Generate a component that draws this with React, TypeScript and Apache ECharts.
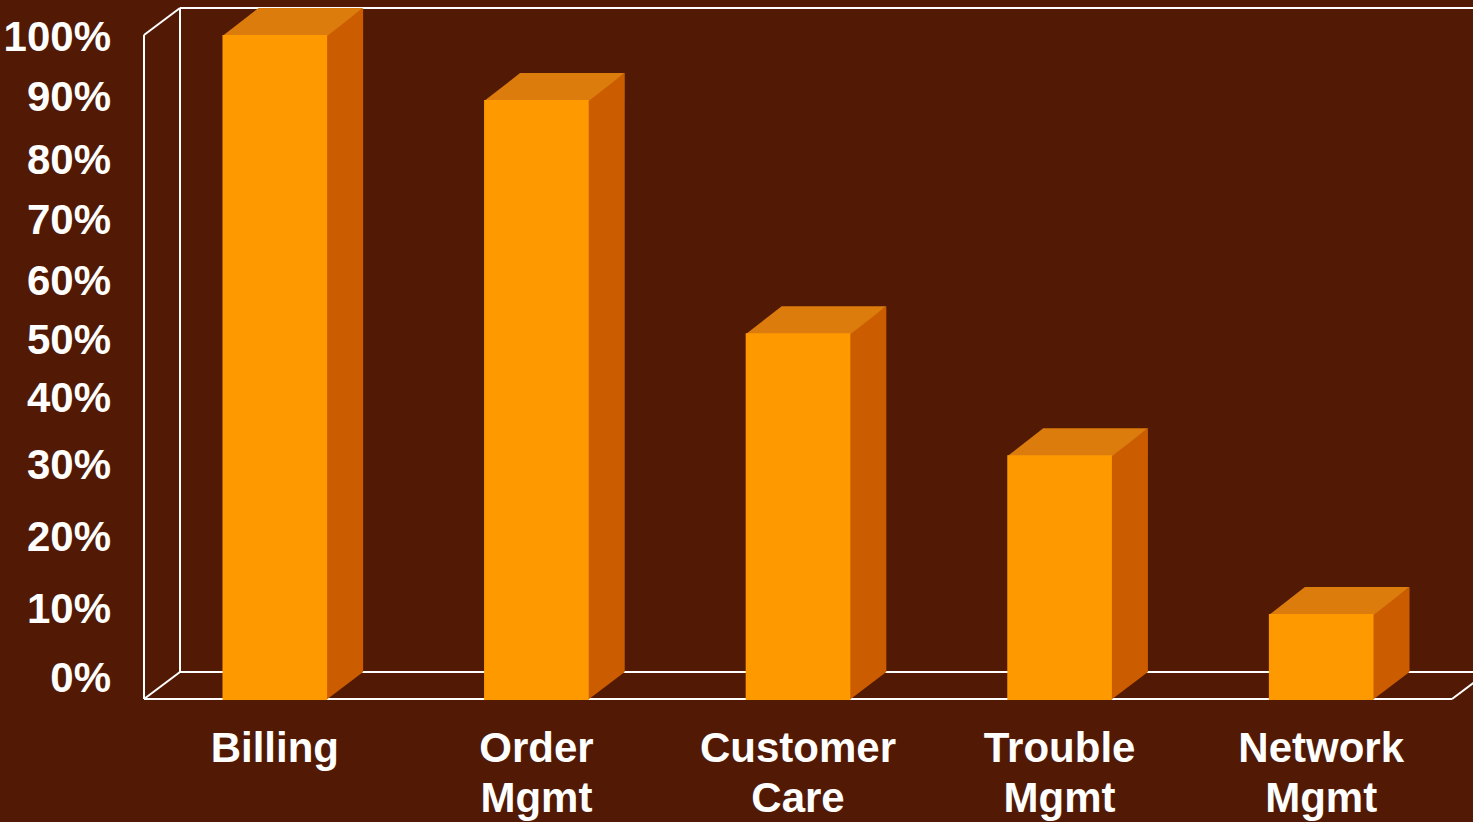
import React, { useEffect, useRef } from "react";
import * as echarts from "echarts";

const categories = ["Billing", "Order\nMgmt", "Customer\nCare", "Trouble\nMgmt", "Network\nMgmt"];
const shares = [100, 90.2, 55.1, 36.7, 12.8];
const tickLabels = ["0%", "10%", "20%", "30%", "40%", "50%", "60%", "70%", "80%", "90%", "100%"];
const tickPositions = [3.3, 13.7, 24.5, 35.3, 45.4, 54.1, 63.0, 72.2, 81.2, 90.7, 99.7];

const FONT = "'Liberation Sans', Arial, sans-serif";
const DX = 36;
const DY = 27;

export default function App() {
  const ref = useRef<HTMLDivElement>(null);
  useEffect(() => {
    if (!ref.current) return;
    const chart = echarts.init(ref.current, null, { renderer: "svg" });
    chart.setOption({
      animation: false,
      backgroundColor: "#521A04",
      grid: { left: 144, right: 21, top: 35, bottom: 122, containLabel: false },
      xAxis: {
        type: "category",
        data: categories,
        axisLine: { show: false },
        axisTick: { show: false },
        splitLine: { show: false },
        axisLabel: {
          color: "#ffffff",
          fontFamily: FONT,
          fontWeight: "bold",
          fontSize: 42,
          lineHeight: 50,
          margin: 23,
          interval: 0,
        },
      },
      yAxis: {
        type: "value",
        min: 0,
        max: 100,
        axisLine: { show: false },
        axisTick: { show: false },
        splitLine: { show: false },
        axisLabel: {
          customValues: tickPositions,
          color: "#ffffff",
          fontFamily: FONT,
          fontWeight: "bold",
          fontSize: 42,
          margin: 33,
          formatter: (v: number) => {
            let best = 0;
            for (let i = 1; i < tickPositions.length; i++) {
              if (Math.abs(tickPositions[i] - v) < Math.abs(tickPositions[best] - v)) best = i;
            }
            return tickLabels[best];
          },
        },
      },
      series: [
        {
          type: "custom",
          z: 1,
          data: [[0, 0]],
          renderItem: (params: any) => {
            const cs = params.coordSys;
            const L = cs.x, R = cs.x + cs.width, T = cs.y, B = cs.y + cs.height;
            const st = { stroke: "#ffffff", lineWidth: 2 };
            const seg = (x1: number, y1: number, x2: number, y2: number) => ({
              type: "line",
              shape: { x1, y1, x2, y2 },
              style: st,
            });
            return {
              type: "group",
              children: [
                seg(L, T, L, B),
                seg(L + DX, T - DY, L + DX, B - DY),
                seg(L, T, L + DX, T - DY),
                seg(L, B, L + DX, B - DY),
                seg(L + DX, T - DY, R + DX, T - DY),
                seg(L + DX, B - DY, R + DX, B - DY),
                seg(L, B, R, B),
                seg(R, B, R + DX, B - DY),
              ],
            };
          },
        },
        {
          type: "custom",
          z: 2,
          data: shares.map((v, i) => [i, v]),
          encode: { x: 0, y: 1 },
          renderItem: (params: any, api: any) => {
            const top = api.coord([api.value(0), api.value(1)]);
            const base = api.coord([api.value(0), 0]);
            const w = api.size([1, 0])[0] * 0.4;
            const x0 = top[0] - w / 2;
            const x1 = x0 + w;
            const yt = top[1];
            const yb = base[1];
            return {
              type: "group",
              children: [
                {
                  type: "polygon",
                  shape: { points: [[x1 - 1, yt], [x1 + DX, yt - DY], [x1 + DX, yb - DY], [x1 - 1, yb + 1]] },
                  style: { fill: "#CC5C00" },
                },
                {
                  type: "polygon",
                  shape: { points: [[x0, yt + 1], [x0 + DX, yt - DY], [x1 + DX, yt - DY], [x1, yt + 1]] },
                  style: { fill: "#DB7C0C" },
                },
                {
                  type: "rect",
                  shape: { x: x0, y: yt, width: w, height: yb - yt + 1 },
                  style: { fill: "#FF9900" },
                },
              ],
            };
          },
        },
      ],
    });
    return () => chart.dispose();
  }, []);
  return (
    <div
      ref={ref}
      style={{ position: "fixed", left: 0, top: 0, width: 1473, height: 822 }}
    />
  );
}
